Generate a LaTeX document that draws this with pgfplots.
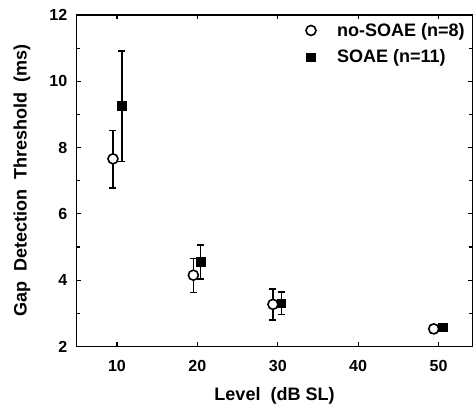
\documentclass[border=0pt]{standalone}
\usepackage{pgfplots}
\pgfplotsset{compat=1.18}
\usepackage{fontspec}
\setmainfont{Liberation Sans}

\pgfplotstableread{
x     y     ep    em
9.5   7.66  0.86  0.88
19.5  4.15  0.51  0.53
29.4  3.27  0.46  0.47
49.4  2.53  0.12  0.12
}\nosoae

\pgfplotstableread{
x     y     ep    em
10.6  9.27  1.64  1.69
20.4  4.56  0.50  0.52
30.45 3.30  0.34  0.34
50.5  2.58  0.12  0.12
}\soae

\begin{document}
\begin{tikzpicture}
\begin{axis}[
    name=ax,
    scale only axis,
    width=395pt, height=331pt,
    xmin=5, xmax=54.2,
    ymin=2, ymax=12,
    xtick={10,20,30,40,50},
    ytick={2,4,...,12},
    minor y tick num=1,
    tick align=inside,
    major tick length=4pt,
    minor tick length=3pt,
    axis line style={line width=1.4pt},
    every tick/.style={black, line width=1.2pt},
    /pgf/number format/assume math mode=true,
    ticklabel style={font=\fontsize{16}{19}\selectfont\bfseries},
    xticklabel style={yshift=-10pt},
    yticklabel style={xshift=-6pt},
    xlabel={Level\ \ (dB SL)},
    ylabel={Gap\ \ Detection\ \ Threshold\ \ (ms)},
    label style={font=\fontsize{18}{21}\selectfont\bfseries},
    xlabel style={at={(axis description cs:0.5,-0.148)}, anchor=center},
    ylabel style={at={(axis description cs:-0.1385,0.5)}, anchor=center},
    legend style={draw=none, fill=none, inner sep=0pt,
        at={(axis description cs:0.579,0.982)}, anchor=north west,
        font=\fontsize{18}{21}\selectfont\bfseries,
        row sep=8pt, column sep=19pt},
    legend cell align=left,
]

\addplot[only marks, mark=*, mark size=5pt,
    mark options={line width=1.6pt, draw=black, fill=white, solid},
    error bars/.cd, y dir=both, y explicit,
    error mark=|,
    error mark options={mark size=3.5pt, line width=1.4pt},
    error bar style={line width=1.4pt}]
    table[x=x, y=y, y error plus=ep, y error minus=em] {\nosoae};
\addlegendentry{no-SOAE (n=8)}

\addplot[only marks, mark=square*, mark size=4.3pt,
    mark options={fill=black, solid},
    error bars/.cd, y dir=both, y explicit,
    error mark=|,
    error mark options={mark size=3.5pt, line width=1.4pt},
    error bar style={line width=1.4pt}]
    table[x=x, y=y, y error plus=ep, y error minus=em] {\soae};
\addlegendentry{SOAE (n=11)}

\end{axis}
\pgfresetboundingbox
\path ([shift={(-76.7pt,-69pt)}]ax.south west)
    rectangle ([shift={(0.7pt,15pt)}]ax.north east);
\end{tikzpicture}
\end{document}
